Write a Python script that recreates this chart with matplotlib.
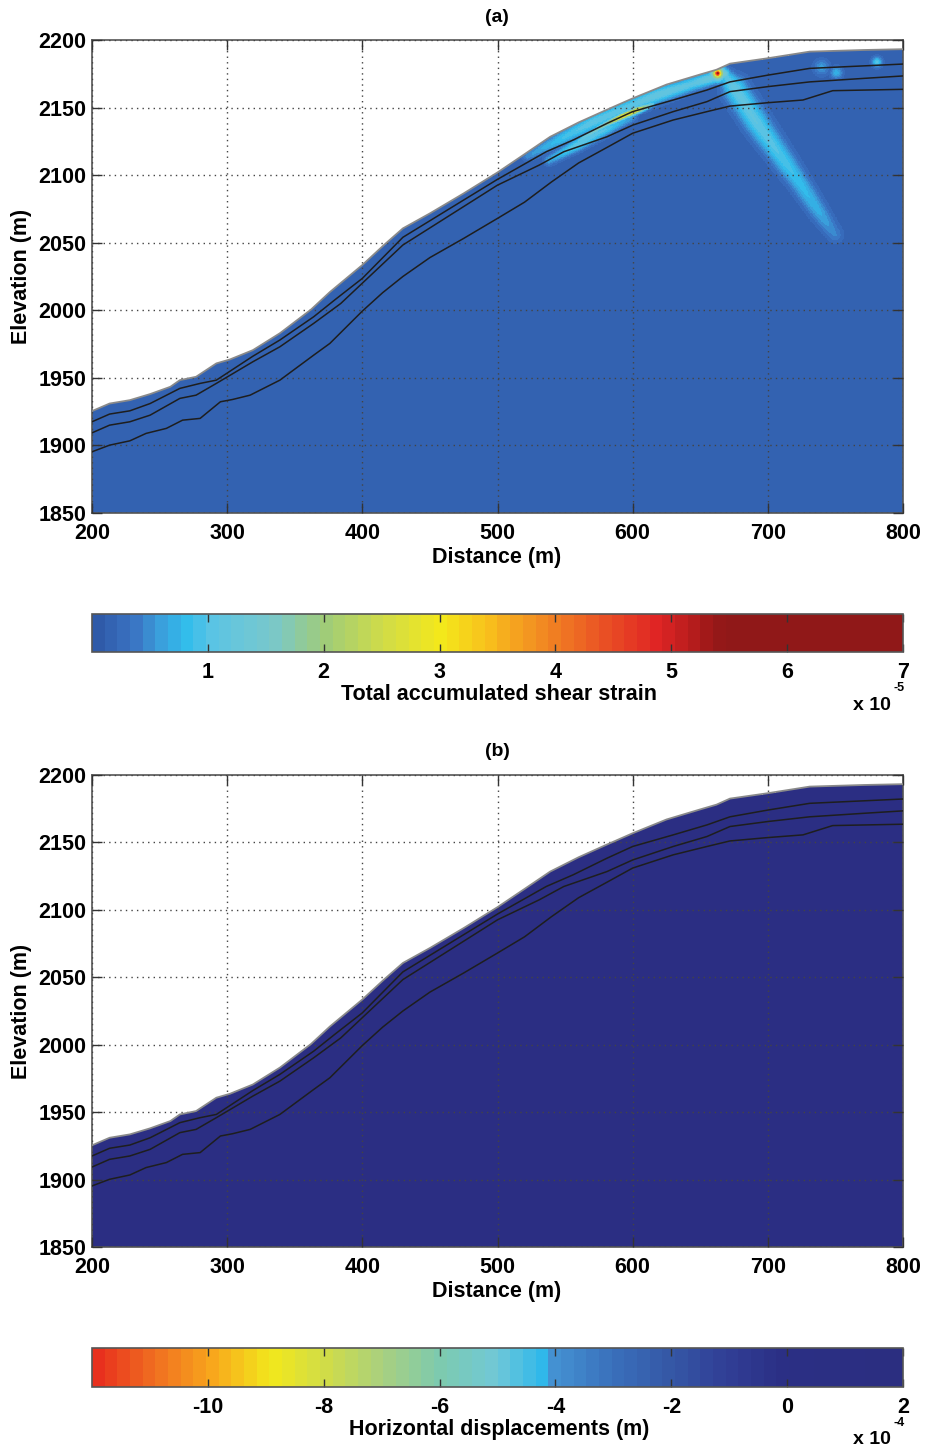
import numpy as np
import matplotlib
matplotlib.use("Agg")
import matplotlib.pyplot as plt
from matplotlib.colors import LinearSegmentedColormap, ListedColormap

plt.rcParams["font.family"] = ["Liberation Sans", "DejaVu Sans"]
plt.rcParams["font.weight"] = "bold"

# ground surface and the three layer interfaces below it (distance m, elevation m)
surf_x = [200, 213, 228, 243, 258, 265, 277, 292, 302, 319, 339, 362, 376, 400, 416, 430,
          450, 475, 500, 520, 539, 560, 580, 600, 625, 650, 662, 672, 700, 731, 771, 800]
surf_z = [1925.4, 1931, 1933.5, 1938, 1943.4, 1948.3, 1950.8, 1960.7, 1963.6, 1970.5, 1983,
          2000.5, 2013.5, 2033.5, 2048.3, 2060.6, 2071.7, 2086.5, 2102, 2115.5, 2128.4, 2139,
          2148, 2156.8, 2167, 2174.5, 2178, 2182.5, 2186.5, 2191.4, 2192.6, 2193.2]

lay1_x = [200, 213, 228, 243, 265, 280, 292, 319, 339, 364, 380, 400, 430, 475, 500, 536,
          556, 581, 600, 630, 655, 672, 700, 731, 800]
lay1_z = [1917.5, 1923.2, 1925.6, 1931, 1942.2, 1945.9, 1948.3, 1966, 1978, 1995.2, 2008,
          2023.6, 2054, 2081.6, 2096.9, 2117.3, 2126, 2138.3, 2147, 2155.6, 2163, 2169,
          2174, 2179, 2182.2]

lay2_x = [200, 213, 228, 243, 265, 277, 292, 319, 339, 364, 384, 430, 500, 531, 549, 581,
          600, 630, 655, 672, 700, 731, 771, 800]
lay2_z = [1909.3, 1915, 1917.5, 1922.4, 1934.8, 1937.2, 1945.9, 1961.9, 1973, 1990.3, 2005,
          2048.3, 2092.6, 2107.5, 2117.3, 2128.4, 2137, 2147, 2154.4, 2161.8, 2165.5, 2169,
          2171.6, 2173.4]

lay3_x = [200, 213, 228, 240, 255, 267, 280, 295, 304, 317, 339, 364, 376, 400, 415, 430,
          450, 475, 500, 520, 540, 560, 581, 600, 630, 655, 672, 700, 726, 748, 800]
lay3_z = [1895.3, 1900.2, 1903.4, 1908.9, 1912.6, 1918.7, 1920, 1932.3, 1934, 1937.2, 1948.3,
          1966.8, 1975.5, 1999.4, 2013, 2025, 2039, 2053.2, 2068, 2080, 2095, 2109, 2120.5,
          2131, 2140.8, 2147, 2151.1, 2153.6, 2155.6, 2162.5, 2163.5]

# (a) shear strain concentrations, strain in 1e-5, widths in m
strain_background = 0.15
upper_band_x = [522, 545, 570, 595, 620, 645, 668]
upper_band_z = [2114, 2126, 2139, 2150, 2160, 2168, 2175]
upper_band_amp = [0.35, 0.7, 0.95, 0.9, 1.05, 0.95, 1.3]
upper_band_w = [2.5, 3.5, 4.0, 4.0, 4.0, 3.5, 3.0]

streak_x = [560, 580, 592, 603, 615]
streak_z = [2125.5, 2137.8, 2143.5, 2148.2, 2152.5]
streak_amp = [0.9, 1.8, 2.9, 2.7, 1.0]
streak_w = [1.4, 1.5, 1.7, 1.7, 1.4]

mid_band_x = [538, 558, 580, 600]
mid_band_z = [2111, 2122, 2134, 2143]
mid_band_amp = [0.5, 0.95, 0.85, 0.4]
mid_band_w = [2.5, 3.0, 3.0, 2.5]

deep_band_x = [670, 676, 692, 707, 722, 738, 750]
deep_band_z = [2172, 2164, 2139, 2118, 2097, 2073, 2056]
deep_band_amp = [0.9, 1.0, 0.95, 0.85, 0.7, 0.55, 0.3]
deep_band_w = [4.0, 6.0, 6.0, 5.5, 5.0, 4.5, 4.0]

spot_x = [663, 663, 751, 781, 740]
spot_z = [2175.5, 2175.5, 2176, 2184, 2180]
spot_amp = [5.3, 2.8, 0.6, 0.9, 0.45]
spot_w = [2.0, 3.8, 3.0, 2.5, 4.0]

# (b) horizontal displacement, 1e-4 m (uniform over the slope)
hdisp_level = 0.6

strain_ticks = [1, 2, 3, 4, 5, 6, 7]
hdisp_ticks = [-10, -8, -6, -4, -2, 0, 2]

# colour maps (MATLAB jet-like, 64 levels)
strain_anchor = [(0.0, "#2f5aa8"), (0.3, "#3a72c2"), (0.55, "#3aa0dc"), (0.75, "#30bcec"),
                 (1.0, "#5cc4e4"), (1.5, "#78c8cc"), (2.0, "#a0cc78"), (2.5, "#d0dc48"),
                 (3.0, "#f4e81a"), (3.4, "#f8c01c"), (3.9, "#f28a22"), (4.4, "#ea5424"),
                 (4.9, "#e02424"), (5.3, "#a81a1a"), (5.5, "#901818"), (7.0, "#901818")]
hdisp_anchor = [(-12, "#e8301e"), (-11, "#f07020"), (-10, "#f8a81c"), (-9, "#f2e81c"),
                (-8, "#d0dc48"), (-7, "#a8d080"), (-6, "#7ccab0"), (-5, "#70c8d8"),
                (-4.2, "#30b8ea"), (-4, "#4492d2"), (-3, "#3a70bc"), (-2, "#3558a6"),
                (-1, "#313f96"), (0, "#2b2f85"), (2, "#2b2e80")]


def make_cmap(anchor):
    lo, hi = anchor[0][0], anchor[-1][0]
    cm = LinearSegmentedColormap.from_list(
        "c", [((v - lo) / (hi - lo), c) for v, c in anchor])
    cmap = ListedColormap(cm(np.linspace(0, 1, 64)))
    cmap.set_bad("white")
    return cmap, lo, hi


def band(X, Z, px, pz, amp, wid):
    if len(px) == 1:
        return amp[0] * np.exp(-((X - px[0])**2 + (Z - pz[0])**2) / (2 * wid[0]**2))
    out = np.zeros_like(X)
    for i in range(len(px) - 1):
        dx, dz = px[i + 1] - px[i], pz[i + 1] - pz[i]
        t = np.clip(((X - px[i]) * dx + (Z - pz[i]) * dz) / (dx * dx + dz * dz), 0, 1)
        d2 = (X - px[i] - t * dx)**2 + (Z - pz[i] - t * dz)**2
        a = amp[i] + t * (amp[i + 1] - amp[i])
        w = wid[i] + t * (wid[i + 1] - wid[i])
        out = np.maximum(out, a * np.exp(-d2 / (2 * w * w)))
    return out


xs = np.arange(200, 800.01, 0.5)
zs = np.arange(1850, 2200.01, 0.5)
X, Z = np.meshgrid(xs, zs)
above = Z > np.interp(X, surf_x, surf_z)

strain = np.maximum.reduce([
    band(X, Z, upper_band_x, upper_band_z, upper_band_amp, upper_band_w),
    band(X, Z, streak_x, streak_z, streak_amp, streak_w),
    band(X, Z, mid_band_x, mid_band_z, mid_band_amp, mid_band_w),
    band(X, Z, deep_band_x, deep_band_z, deep_band_amp, deep_band_w),
] + [band(X, Z, [sx], [sz], [sa], [sw])
     for sx, sz, sa, sw in zip(spot_x, spot_z, spot_amp, spot_w)]) + strain_background
strain = np.ma.masked_where(above, strain)
hdisp = np.ma.masked_where(above, np.full(X.shape, hdisp_level))

W, H = 925, 1449
fig = plt.figure(figsize=(W / 100, H / 100), dpi=100)


def fbox(x0, y0, x1, y1):
    return [x0 / W, 1 - y1 / H, (x1 - x0) / W, (y1 - y0) / H]


FS = 15.5
panels = [
    ("(a)", strain, strain_anchor, strain_ticks, "Total accumulated shear strain", "-5",
     (40, 513), (614, 652)),
    ("(b)", hdisp, hdisp_anchor, hdisp_ticks, "Horizontal displacements (m)", "-4",
     (775, 1247), (1348, 1387)),
]
for title, field, anchor, cticks, clabel, expo, (ay0, ay1), (cy0, cy1) in panels:
    cmap, lo, hi = make_cmap(anchor)
    ax = fig.add_axes(fbox(92, ay0, 903, ay1))
    im = ax.imshow(field, extent=[200, 800, 1850, 2200], origin="lower", aspect="auto",
                   cmap=cmap, vmin=lo, vmax=hi, interpolation="nearest", zorder=1)
    for lx, lz in [(lay1_x, lay1_z), (lay2_x, lay2_z), (lay3_x, lay3_z)]:
        ax.plot(lx, lz, color="#1e1e1e", lw=1.1, zorder=3)
    ax.plot(surf_x, surf_z, color="#8a8a8a", lw=1.3, zorder=3)
    ax.set_xlim(200, 800)
    ax.set_ylim(1850, 2200)
    ax.set_xticks(range(200, 801, 100))
    ax.set_yticks(range(1850, 2201, 50))
    ax.grid(True, linestyle=(0, (1, 3)), color="#444444", lw=1.0, zorder=4)
    ax.set_axisbelow(False)
    ax.tick_params(direction="in", top=True, right=True, length=7, width=1,
                   color="#333333", labelsize=FS)
    ax.tick_params(axis="x", pad=7)
    ax.tick_params(axis="y", pad=4)
    for s in ax.spines.values():
        s.set_color("#555555")
        s.set_linewidth(1.2)
    fig.text(497 / W, 1 - (ay0 - 23) / H, title, ha="center", va="center",
             fontsize=14, fontweight="bold")
    fig.text(497 / W, 1 - (ay1 + 44) / H, "Distance (m)", ha="center", va="center",
             fontsize=FS, fontweight="bold")
    fig.text(22 / W, 1 - (ay0 + ay1) / 2 / H, "Elevation (m)", ha="center", va="center",
             rotation=90, fontsize=FS, fontweight="bold")

    cax = fig.add_axes(fbox(92, cy0, 903, cy1))
    cb = fig.colorbar(im, cax=cax, orientation="horizontal", ticks=cticks)
    cb.outline.set_edgecolor("#555555")
    cb.outline.set_linewidth(1.2)
    cax.tick_params(direction="in", top=True, bottom=True, length=6, width=1,
                    color="#333333", labelsize=FS, pad=7)
    cax.set_xticklabels([str(t) for t in cticks])
    fig.text(499 / W, 1 - (cy1 + 43) / H, clabel, ha="center", va="center",
             fontsize=FS, fontweight="bold")
    fig.text(872 / W, 1 - (cy1 + 53) / H, "x 10", ha="center", va="center",
             fontsize=14, fontweight="bold")
    fig.text(899 / W, 1 - (cy1 + 36) / H, expo, ha="center", va="center",
             fontsize=9, fontweight="bold")

fig.savefig("out.png", dpi=100)
